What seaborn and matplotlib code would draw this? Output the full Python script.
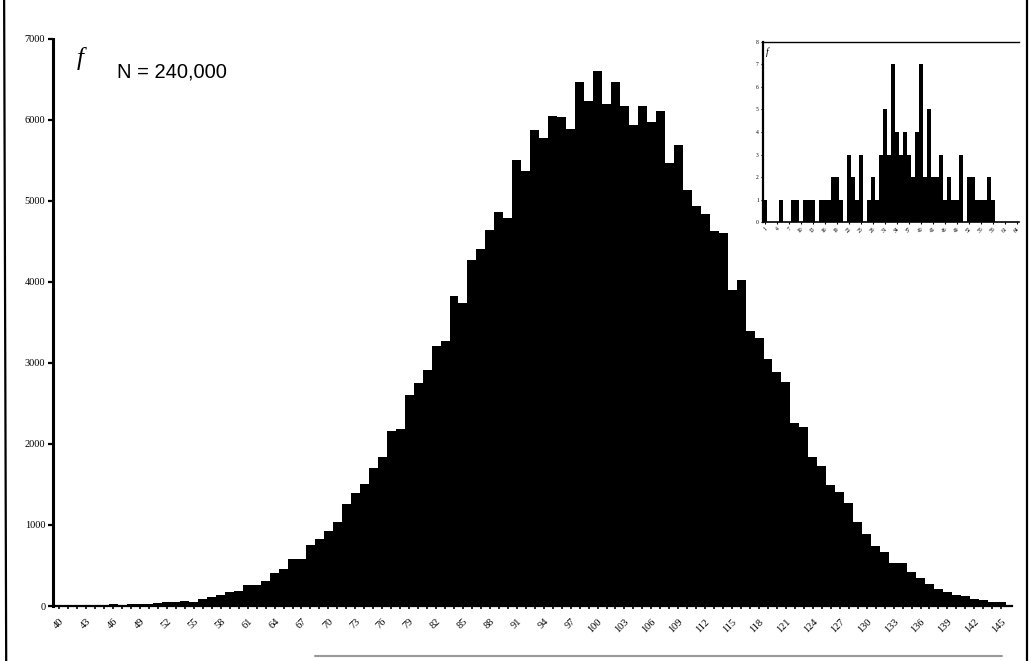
import numpy as np
import pandas as pd
import seaborn as sns
import matplotlib.pyplot as plt
from matplotlib.lines import Line2D

# -------------------- data --------------------
scores = list(range(40, 146))
freq = [
    2, 3, 4, 5, 6, 8,
    20, 15, 22, 28, 30, 35,
    50, 52, 62, 48, 86, 115,
    136, 173, 181, 255, 258, 309,
    403, 453, 577, 577, 753, 823,
    930, 1041, 1260, 1400, 1503, 1708,
    1836, 2165, 2182, 2606, 2758, 2915,
    3203, 3273, 3832, 3738, 4273, 4405,
    4635, 4862, 4788, 5508, 5364, 5879,
    5776, 6043, 6035, 5887, 6463, 6228,
    6599, 6200, 6463, 6175, 5936, 6175,
    5977, 6105, 5467, 5685, 5138, 4931,
    4837, 4623, 4603, 3903, 4026, 3400,
    3310, 3047, 2890, 2766, 2256, 2215,
    1836, 1729, 1494, 1404, 1268, 1041,
    889, 741, 671, 527, 527, 424,
    350, 272, 206, 169, 136, 128,
    86, 74, 53, 46,
]
tick_scores = list(range(40, 146, 3))
y_ticks = list(range(0, 8000, 1000))

# small sample shown in the inset
inset_bins = list(range(1, 65))
inset_freq = [
    1, 0, 0, 0, 1, 0, 0, 1, 1, 0,
    1, 1, 1, 0, 1, 1, 1, 2, 2, 1,
    0, 3, 2, 1, 3, 0, 1, 2, 1, 3,
    5, 3, 7, 4, 3, 4, 3, 2, 4, 7,
    2, 5, 2, 2, 3, 1, 2, 1, 1, 3,
    0, 2, 2, 1, 1, 1, 2, 1, 0, 0,
    0, 0, 0, 0,
]
inset_ticks = list(range(1, 65, 3))
inset_yticks = list(range(0, 9))

df = pd.DataFrame({"score": scores, "f": freq})
df_in = pd.DataFrame({"bin": inset_bins, "f": inset_freq})

# -------------------- style --------------------
sns.set_theme(style="white")
plt.rcParams['font.family'] = ['Liberation Serif', 'DejaVu Serif']
plt.rcParams.update({"text.color": "black", "xtick.color": "black",
                     "ytick.color": "black", "axes.labelcolor": "black"})

fig = plt.figure(figsize=(10.33, 6.61), dpi=100)

# -------------------- main histogram --------------------
ax = fig.add_axes([0.0513, 0.0832, 0.9284, 0.858])
sns.histplot(data=df, x="score", weights="f", discrete=True,
             color="black", alpha=1, linewidth=0, ax=ax)
ax.set_xlim(39.3, 146.2)
ax.set_ylim(0, 7000)
ax.set_xlabel("")
ax.set_ylabel("")
sns.despine(ax=ax)
ax.spines["left"].set_linewidth(2.2)
ax.spines["bottom"].set_linewidth(1.6)
ax.spines["left"].set_color("black")
ax.spines["bottom"].set_color("black")

ax.set_yticks(y_ticks)
ax.set_yticklabels([str(v) for v in y_ticks], fontsize=7.5)
ax.set_xticks(tick_scores)
ax.set_xticklabels([str(s) for s in tick_scores], rotation=45,
                   ha="right", rotation_mode="anchor", fontsize=7.5)
ax.set_xticks(scores, minor=True)
ax.tick_params(axis="y", left=True, direction="out", length=3.5, width=1.6,
               color="black", labelcolor="black", pad=2)
ax.tick_params(axis="x", which="both", bottom=True, direction="out",
               length=2, width=1.2, color="black", labelcolor="black", pad=6)

ax.text(0.025, 0.985, "f", transform=ax.transAxes, fontsize=18,
        style="italic", va="top", ha="left", color="black")
fig.text(0.1665, 0.891, "N = 240,000", fontsize=14.5, color="black",
         family=["Liberation Sans", "DejaVu Sans"], ha="center", va="center")

# -------------------- inset --------------------
ins = fig.add_axes([0.7386, 0.6641, 0.2478, 0.2724])
sns.histplot(data=df_in, x="bin", weights="f", discrete=True,
             color="black", alpha=1, linewidth=0, ax=ins)
ins.set_xlim(0.5, 64.5)
ins.set_ylim(0, 8)
ins.set_xlabel("")
ins.set_ylabel("")
ins.set_facecolor("white")
ins.spines["right"].set_visible(False)
for side, lw in [("left", 1.6), ("top", 1.0), ("bottom", 1.2)]:
    ins.spines[side].set_linewidth(lw)
    ins.spines[side].set_color("black")
ins.set_yticks(inset_yticks)
ins.set_yticklabels([str(v) for v in inset_yticks], fontsize=4)
ins.set_xticks(inset_ticks)
ins.set_xticklabels([str(b) for b in inset_ticks], rotation=45,
                    ha="right", rotation_mode="anchor", fontsize=4)
ins.tick_params(axis="both", direction="out", length=1.5, width=0.8,
                color="black", labelcolor="black", pad=1.5,
                left=True, bottom=True)
ins.text(0.01, 0.97, "f", transform=ins.transAxes, fontsize=7,
         style="italic", va="top", ha="left", color="black")

# -------------------- page frame --------------------
fig.add_artist(Line2D([0.004, 0.006], [1, 0], color="black", lw=1.6,
                      transform=fig.transFigure))
fig.add_artist(Line2D([0.994, 0.994], [1, 0], color="black", lw=1.6,
                      transform=fig.transFigure))
fig.add_artist(Line2D([0.305, 0.97], [0.007, 0.007], color="#999999", lw=1.5,
                      transform=fig.transFigure))

fig.savefig("out.png", dpi=100, facecolor="white")
